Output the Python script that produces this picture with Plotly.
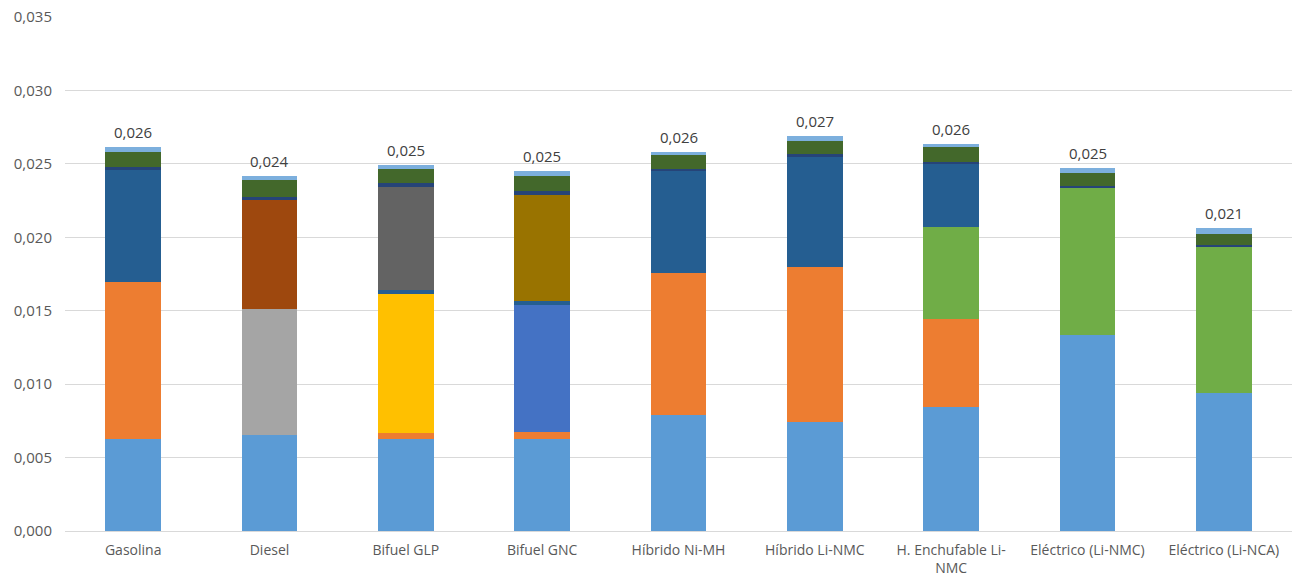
import plotly.graph_objects as go

# Vehicle categories on the x axis
categorias = [
    "Gasolina", "Diesel", "Bifuel GLP", "Bifuel GNC", "Híbrido Ni-MH",
    "Híbrido Li-NMC", "H. Enchufable Li-<br>NMC", "Eléctrico (Li-NMC)", "Eléctrico (Li-NCA)",
]

# Stacked components, bottom to top (same order as categorias)
comp_01 = [0.00626, 0.00654, 0.00626, 0.00626, 0.00790, 0.00742, 0.00842, 0.01335, 0.00940]
comp_02 = [0.01069, 0.0, 0.00041, 0.00048, 0.00965, 0.01058, 0.00602, 0.0, 0.0]
comp_03 = [0.0, 0.00858, 0.0, 0.0, 0.0, 0.0, 0.0, 0.0, 0.0]
comp_04 = [0.0, 0.0, 0.00947, 0.0, 0.0, 0.0, 0.0, 0.0, 0.0]
comp_05 = [0.0, 0.0, 0.0, 0.00865, 0.0, 0.0, 0.0, 0.0, 0.0]
comp_06 = [0.0, 0.0, 0.0, 0.0, 0.0, 0.0, 0.00624, 0.01005, 0.00999]
comp_07 = [0.00763, 0.0, 0.00025, 0.00029, 0.00696, 0.00749, 0.00429, 0.0, 0.0]
comp_08 = [0.0, 0.00742, 0.0, 0.0, 0.0, 0.0, 0.0, 0.0, 0.0]
comp_09 = [0.0, 0.0, 0.00703, 0.0, 0.0, 0.0, 0.0, 0.0, 0.0]
comp_10 = [0.0, 0.0, 0.0, 0.00722, 0.0, 0.0, 0.0, 0.0, 0.0]
comp_11 = [0.00022, 0.00022, 0.00025, 0.00025, 0.00016, 0.00018, 0.00016, 0.00009, 0.00010]
comp_12 = [0.00102, 0.00112, 0.00097, 0.00104, 0.00091, 0.00091, 0.00100, 0.00089, 0.00075]
comp_13 = [0.00030, 0.00031, 0.00027, 0.00032, 0.00023, 0.00032, 0.00022, 0.00036, 0.00039]

componentes = [comp_01, comp_02, comp_03, comp_04, comp_05, comp_06, comp_07,
               comp_08, comp_09, comp_10, comp_11, comp_12, comp_13]
colores = ["#5B9BD5", "#ED7D31", "#A5A5A5", "#FFC000", "#4472C4", "#70AD47", "#255E91",
           "#9E480E", "#636363", "#997300", "#264478", "#43682B", "#7CAFDD"]

fig = go.Figure()
for i, (vals, col) in enumerate(zip(componentes, colores), start=1):
    fig.add_trace(go.Bar(
        x=categorias, y=vals, name=f"Componente {i}",
        marker=dict(color=col, line=dict(width=0)),
        hoverinfo="x+y",
    ))

# Total labels above each stack
totales = [sum(c[k] for c in componentes) for k in range(len(categorias))]
for cat, tot in zip(categorias, totales):
    fig.add_annotation(
        x=cat, y=tot, text=f"{tot:.3f}".replace(".", ","),
        showarrow=False, yanchor="bottom", yshift=3,
        font=dict(family="Open Sans", size=15, color="#404040"),
    )

fig.update_layout(
    barmode="stack",
    bargap=0.59,
    width=1293, height=583,
    margin=dict(l=65, r=1, t=17, b=52),
    plot_bgcolor="white", paper_bgcolor="white",
    showlegend=False,
    separators=",.",
    font=dict(family="Open Sans", size=14, color="#595959"),
)
fig.update_yaxes(
    range=[0, 0.035], dtick=0.005, tickformat=".3f",
    showgrid=True, gridcolor="#D9D9D9", gridwidth=1,
    zeroline=False, showline=False, ticks="", ticklen=0,
    ticklabelstandoff=12,
    tickfont=dict(size=15, color="#595959"),
)
fig.update_xaxes(
    showline=True, linecolor="#D9D9D9", linewidth=1,
    ticks="", ticklabelstandoff=6,
    tickfont=dict(size=14, color="#595959"),
)

fig.write_html("out.html")
